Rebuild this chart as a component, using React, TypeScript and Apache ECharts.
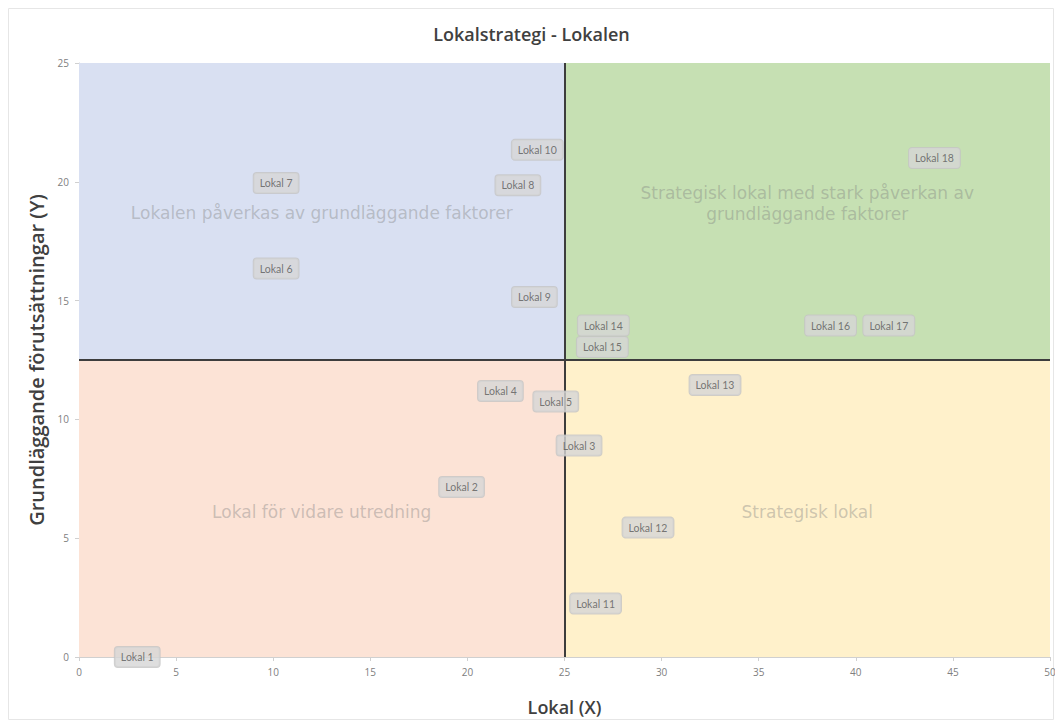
import React, { useEffect, useRef } from "react";
import * as echarts from "echarts";

const pointNames = [
  "Lokal 1", "Lokal 2", "Lokal 3", "Lokal 4", "Lokal 5", "Lokal 6", "Lokal 7", "Lokal 8", "Lokal 9",
  "Lokal 10", "Lokal 11", "Lokal 12", "Lokal 13", "Lokal 14", "Lokal 15", "Lokal 16", "Lokal 17", "Lokal 18",
];
const pointX = [3.0, 19.7, 25.75, 21.7, 24.55, 10.15, 10.15, 22.6, 23.45, 23.6, 26.6, 29.3, 32.75, 27.0, 26.95, 38.7, 41.7, 44.05];
const pointY = [0.0, 7.15, 8.9, 11.2, 10.75, 16.35, 19.95, 19.85, 15.15, 21.35, 2.25, 5.45, 11.45, 13.95, 13.05, 13.95, 13.95, 21.0];

const quadrantLabels = [
  "Lokalen påverkas av grundläggande faktorer",
  "Strategisk lokal med stark påverkan av\ngrundläggande faktorer",
  "Lokal för vidare utredning",
  "Strategisk lokal",
];
const quadrantLabelX = [12.5, 37.5, 12.5, 37.5];
const quadrantLabelY = [18.7, 19.1, 6.1, 6.1];
const quadrantColors = ["#d9e0f2", "#c6e0b3", "#fce3d6", "#fff1cb"];

const xMin = 0, xMax = 50, xSplit = 25, xStep = 5;
const yMin = 0, yMax = 25, ySplit = 12.5, yStep = 5;

const titleText = "Lokalstrategi - Lokalen";
const xAxisTitle = "Lokal (X)";
const yAxisTitle = "Grundläggande förutsättningar (Y)";

export default function App() {
  const ref = useRef<HTMLDivElement>(null);
  useEffect(() => {
    if (!ref.current) return;
    const chart = echarts.init(ref.current, null, { renderer: "svg" });
    const quadrants = [
      [[xMin, ySplit], [xSplit, yMax]],
      [[xSplit, ySplit], [xMax, yMax]],
      [[xMin, yMin], [xSplit, ySplit]],
      [[xSplit, yMin], [xMax, ySplit]],
    ];
    const option: any = {
      animation: false,
      backgroundColor: "#ffffff",
      title: {
        text: titleText,
        left: "center",
        top: 12,
        textStyle: { fontFamily: "Open Sans", fontSize: 18, fontWeight: 600, color: "#404040" },
      },
      graphic: [
        {
          type: "rect",
          shape: { x: 0.5, y: 0.5, width: 1045, height: 711 },
          style: { fill: "none", stroke: "#e6e6e6", lineWidth: 1 },
          silent: true,
        },
      ],
      grid: { left: 71, top: 55, width: 971, height: 594, containLabel: false, outerBoundsMode: "none" },
      xAxis: {
        type: "value",
        min: xMin,
        max: xMax,
        interval: xStep,
        name: xAxisTitle,
        nameLocation: "middle",
        nameGap: 41,
        nameTextStyle: { fontFamily: "Open Sans", fontSize: 18, fontWeight: 600, color: "#404040" },
        axisLine: { show: true, lineStyle: { color: "#d0d0d0", width: 1 } },
        axisTick: { show: true, length: 4, lineStyle: { color: "#d0d0d0" } },
        axisLabel: { color: "#808080", fontFamily: "Open Sans", fontSize: 10, margin: 10 },
        splitLine: { show: false },
      },
      yAxis: {
        type: "value",
        min: yMin,
        max: yMax,
        interval: yStep,
        name: yAxisTitle,
        nameLocation: "middle",
        nameGap: 30,
        nameTextStyle: { fontFamily: "Open Sans", fontSize: 20, fontWeight: 600, color: "#404040" },
        axisLine: { show: true, lineStyle: { color: "#d0d0d0", width: 1 } },
        axisTick: { show: true, length: 4, lineStyle: { color: "#d0d0d0" } },
        axisLabel: { color: "#808080", fontFamily: "Open Sans", fontSize: 10, margin: 10 },
        splitLine: { show: false },
      },
      series: [
        {
          type: "scatter",
          name: "quadrants",
          data: [],
          silent: true,
          markArea: {
            silent: true,
            data: quadrants.map((q, i) => [
              { xAxis: q[0][0], yAxis: q[0][1], itemStyle: { color: quadrantColors[i], opacity: 1 } },
              { xAxis: q[1][0], yAxis: q[1][1] },
            ]),
          },
          markLine: {
            silent: true,
            symbol: "none",
            label: { show: false },
            lineStyle: { color: "#3d3d3d", width: 2, type: "solid" },
            data: [{ xAxis: xSplit }, { yAxis: ySplit }],
          },
        },
        {
          type: "scatter",
          name: "quadrantText",
          silent: true,
          symbolSize: 1,
          itemStyle: { color: "transparent" },
          data: quadrantLabelX.map((x, i) => ({ value: [x, quadrantLabelY[i]], name: quadrantLabels[i] })),
          label: {
            show: true,
            position: "inside",
            formatter: (p: any) => p.name,
            color: "rgba(128,128,128,0.5)",
            fontFamily: "DejaVu Sans",
            fontSize: 17,
            lineHeight: 21,
            align: "center",
          },
          z: 3,
        },
        {
          type: "scatter",
          name: "points",
          symbolSize: 1,
          itemStyle: { color: "transparent" },
          data: pointX.map((x, i) => ({ value: [x, pointY[i]], name: pointNames[i] })),
          label: {
            show: true,
            position: "inside",
            formatter: (p: any) => p.name,
            color: "#595959",
            fontFamily: "Lato",
            fontSize: 10.5,
            backgroundColor: "#d6d6d6",
            borderColor: "#c4c4c4",
            borderWidth: 1,
            borderRadius: 3,
            padding: [5, 6, 4, 6],
          },
          z: 5,
        },
      ],
    };
    chart.setOption(option);
    return () => chart.dispose();
  }, []);
  return <div ref={ref} style={{ width: 1047, height: 716 }} />;
}
